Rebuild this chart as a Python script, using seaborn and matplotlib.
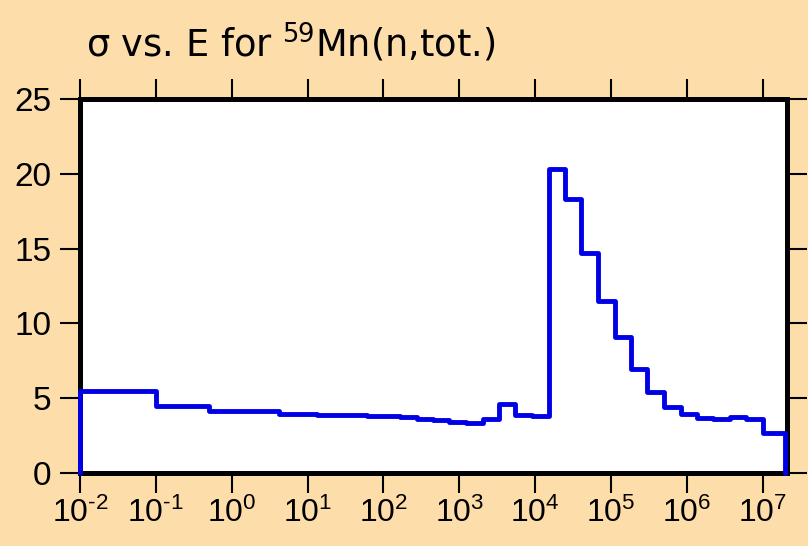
import numpy as np
import pandas as pd
import matplotlib
matplotlib.use("Agg")
import matplotlib.pyplot as plt
import seaborn as sns
from matplotlib.ticker import FixedLocator, NullLocator, FuncFormatter

# Group boundaries (eV) and group-averaged total cross sections (barns)
energy_edges = [1e-2, 1e-1, 0.5, 4.17, 8.3, 13.5, 22.4, 37.2, 61.7, 100, 166,
                275, 457, 741, 1230, 2040, 3390, 5500, 9120, 1.51e4, 2.51e4,
                4.07e4, 6.76e4, 1.12e5, 1.82e5, 3.02e5, 5.01e5, 8.32e5, 1.35e6,
                2.24e6, 3.72e6, 6.03e6, 1e7, 2e7]
sigma = [5.45, 4.5, 4.12, 3.97, 3.94, 3.91, 3.88, 3.85, 3.82, 3.79, 3.74,
         3.63, 3.54, 3.43, 3.36, 3.59, 4.6, 3.88, 3.8, 20.3, 18.3, 14.7, 11.5,
         9.1, 6.95, 5.39, 4.39, 3.92, 3.70, 3.61, 3.72, 3.59, 2.69]
x_ticks = [1e-2, 1e-1, 1e0, 1e1, 1e2, 1e3, 1e4, 1e5, 1e6, 1e7]
x_exponents = ["-2", "-1", "0", "1", "2", "3", "4", "5", "6", "7"]
y_ticks = [0, 5, 10, 15, 20, 25]
title_main = "σ vs. E for "
title_iso = "59"
title_rest = "Mn(n,tot.)"

sns.set_theme(style="white")
plt.rcParams['font.family'] = ['Liberation Sans', 'DejaVu Sans']
plt.rcParams['mathtext.fontset'] = 'custom'
plt.rcParams['mathtext.rm'] = 'Liberation Sans'
plt.rcParams['mathtext.it'] = 'Liberation Sans'
plt.rcParams['mathtext.default'] = 'regular'

bg = '#FDDEAB'
fig = plt.figure(figsize=(8.08, 5.46), dpi=100, facecolor=bg)
ax = fig.add_axes([80/808, 1-473/546, (787-80)/808, (473-99)/546])
ax.set_facecolor('white')
ax.set_xscale('log')

# step outline, dropping to zero at both ends
x_pts = [energy_edges[0]] + energy_edges + [energy_edges[-1]]
y_pts = [0] + sigma + [sigma[-1], 0]
df = pd.DataFrame({"E": x_pts, "sigma": y_pts})
sns.lineplot(data=df, x="E", y="sigma", sort=False, estimator=None,
             drawstyle='steps-post', color='#0000E6', linewidth=3.5,
             ax=ax, zorder=3, clip_on=False)

ax.set_xlim(1e-2, 2.1e7)
ax.set_ylim(0, 25)
exp_map = dict(zip(x_ticks, x_exponents))


def fmt_x(v, pos):
    for t, e in exp_map.items():
        if np.isclose(v, t):
            return r"$10^{\text{" + e + "}}$"
    return ""


ax.xaxis.set_major_locator(FixedLocator(x_ticks))
ax.xaxis.set_minor_locator(NullLocator())
ax.xaxis.set_major_formatter(FuncFormatter(fmt_x))
ax.yaxis.set_major_locator(FixedLocator(y_ticks))
ax.set_xlabel("")
ax.set_ylabel("")

for s in ax.spines.values():
    s.set_visible(True)
    s.set_linewidth(3.6)
    s.set_color('black')

ax.tick_params(axis='both', which='major', direction='out', length=14.5,
               width=1.5, color='black', labelcolor='black',
               top=True, right=True, bottom=True, left=True,
               labeltop=False, labelright=False)
ax.tick_params(axis='x', pad=3, labelsize=23)
ax.tick_params(axis='y', pad=6, labelsize=24)

fig.text(86/808, 1-57/546, title_main + r"$^{" + title_iso + "}$" + title_rest,
         fontsize=26.5, family='DejaVu Sans', ha='left', va='baseline',
         color='black')

fig.savefig("out.png", dpi=100, facecolor=bg)
